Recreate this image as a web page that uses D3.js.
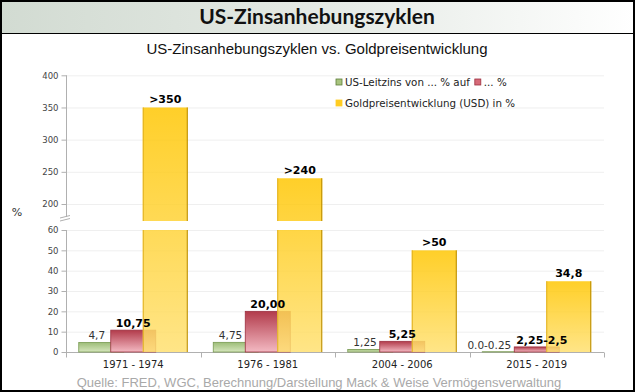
<!DOCTYPE html>
<html><head><meta charset="utf-8">
<script src="https://cdn.jsdelivr.net/npm/d3@7"></script>
<style>html,body{margin:0;padding:0;background:#fff;}svg{display:block;}</style>
</head><body>
<svg id="chart" width="635" height="392"></svg>
<script>
// ---- data ----
const categories = ["1971 - 1974", "1976 - 1981", "2004 - 2006", "2015 - 2019"];
const leitzinsVon = [4.7, 4.75, 1.25, 0.125];
const leitzinsVonLabels = ["4,7", "4,75", "1,25", "0.0-0.25"];
const leitzinsAuf = [10.75, 20.0, 5.25, 2.5];
const leitzinsAufLabels = ["10,75", "20,00", "5,25", "2,25-2,5"];
const gold = [350, 240, 50, 34.8];
const goldLabels = [">350", ">240", ">50", "34,8"];
const lowerTicks = [0, 10, 20, 30, 40, 50, 60];
const upperTicks = [200, 250, 300, 350, 400];
const title = "US-Zinsanhebungszyklen";
const subtitle = "US-Zinsanhebungszyklen vs. Goldpreisentwicklung";
const legendItems = ["US-Leitzins von ... % auf", "... %", "Goldpreisentwicklung (USD) in %"];
const source = "Quelle: FRED, WGC, Berechnung/Darstellung Mack & Weise Vermögensverwaltung";

const svg = d3.select("#chart");
const W = 635, H = 392;
const defs = svg.append("defs");

// title band gradient
const tg = defs.append("linearGradient").attr("id", "titleGrad").attr("x1", 0).attr("x2", 1).attr("y1", 0).attr("y2", 0);
tg.append("stop").attr("offset", "0%").attr("stop-color", "#d2dbd2");
tg.append("stop").attr("offset", "55%").attr("stop-color", "#e6ebe6");
tg.append("stop").attr("offset", "100%").attr("stop-color", "#ffffff");
svg.append("rect").attr("x", 1).attr("y", 1).attr("width", W - 2).attr("height", 32).attr("fill", "url(#titleGrad)");
svg.append("line").attr("x1", 0).attr("x2", W).attr("y1", 33.5).attr("y2", 33.5).attr("stroke", "#000").attr("stroke-width", 1);
svg.append("rect").attr("x", 1).attr("y", 1).attr("width", W - 2).attr("height", H - 2)
  .attr("fill", "none").attr("stroke", "#000").attr("stroke-width", 2);

svg.append("text").attr("x", 317).attr("y", 24).attr("text-anchor", "middle")
  .attr("font-family", "Lato, 'Open Sans', sans-serif").attr("font-weight", "bold").attr("font-size", 21)
  .attr("fill", "#111").text(title);
svg.append("text").attr("x", 317).attr("y", 54).attr("text-anchor", "middle")
  .attr("font-family", "'Liberation Sans Narrow', 'Liberation Sans', Arial, sans-serif").attr("font-size", 15)
  .attr("fill", "#111").text(subtitle);

// ---- scales ----
const left = 66, right = 604;
const x0 = d3.scaleBand().domain(categories).range([left, right]).padding(0);
const barW = 45, barStep = 32;
const groupW = barStep * 2 + barW;
const x1 = d3.scaleLinear().domain([0, 1]).range([0, barStep]);
const gx = (i) => x0(categories[i]) + (x0.bandwidth() - groupW) / 2;

const yBot = d3.scaleLinear().domain([0, 60]).range([352, 230]);
const yTop = d3.scaleLinear().domain([200, 400]).range([204, 75.3]);
const topPanelBottom = 221;

// gridlines
const grid = svg.append("g");
grid.selectAll("line.gl").data(lowerTicks.slice(1)).join("line")
  .attr("x1", left).attr("x2", right).attr("y1", d => yBot(d) + 0.5).attr("y2", d => yBot(d) + 0.5)
  .attr("stroke", "#efefef");
grid.selectAll("line.gu").data(upperTicks).join("line")
  .attr("x1", left).attr("x2", right).attr("y1", d => yTop(d) + 0.5).attr("y2", d => yTop(d) + 0.5)
  .attr("stroke", "#efefef");

// axes
const axisStyle = g => {
  g.select(".domain").attr("stroke", "#b0b0b0");
  g.selectAll(".tick line").attr("stroke", "#b0b0b0");
  g.selectAll(".tick text").attr("fill", "#444").attr("font-family", "'DejaVu Sans', Verdana, sans-serif").attr("font-size", 8.5);
};
svg.append("g").attr("transform", `translate(${left + 0.5},0)`)
  .call(d3.axisLeft(yBot).tickValues(lowerTicks).tickSize(5).tickSizeOuter(0).tickPadding(3))
  .call(axisStyle).call(g => g.select(".domain").attr("d", `M0,${yBot(0)}V${yBot(60)}`));
svg.append("g").attr("transform", `translate(${left + 0.5},0)`)
  .call(d3.axisLeft(yTop).tickValues(upperTicks).tickSize(5).tickSizeOuter(0).tickPadding(3))
  .call(axisStyle).call(g => g.select(".domain").attr("d", `M0,${yTop(400)}V${topPanelBottom - 4}`));

// break marks
const brk = svg.append("g").attr("stroke", "#b0b0b0").attr("stroke-width", 1);
brk.append("line").attr("x1", 60).attr("y1", 218).attr("x2", 70).attr("y2", 215.5);
brk.append("line").attr("x1", 60).attr("y1", 221).attr("x2", 70).attr("y2", 218.5);

// x axis
const xAxisG = svg.append("g").attr("transform", `translate(0,${yBot(0) + 0.5})`);
xAxisG.append("line").attr("x1", left).attr("x2", right).attr("stroke", "#b0b0b0");
const bounds = categories.map(c => x0(c)).concat([right]);
xAxisG.selectAll("line.t").data(bounds).join("line").attr("class", "t")
  .attr("x1", d => Math.round(d) + 0.5).attr("x2", d => Math.round(d) + 0.5).attr("y1", 0).attr("y2", 5).attr("stroke", "#b0b0b0");
xAxisG.selectAll("text").data(categories).join("text")
  .attr("x", d => x0(d) + x0.bandwidth() / 2).attr("y", 15)
  .attr("text-anchor", "middle").attr("font-family", "'DejaVu Sans', Verdana, sans-serif").attr("font-size", 10)
  .attr("fill", "#222").text(d => d);

// y label
svg.append("text").attr("x", 17).attr("y", 216).attr("text-anchor", "middle")
  .attr("font-family", "'DejaVu Sans', Verdana, sans-serif").attr("font-size", 11).attr("fill", "#333").text("%");

// gradients
function vgrad(id, c1, c2) {
  const g = defs.append("linearGradient").attr("id", id).attr("x1", 0).attr("x2", 0).attr("y1", 0).attr("y2", 1);
  g.append("stop").attr("offset", "0%").attr("stop-color", c1);
  g.append("stop").attr("offset", "100%").attr("stop-color", c2);
}
vgrad("greenGrad", "#9dbd78", "#d6e6bd");
vgrad("redGrad", "#b23b4b", "#f3b9c2");

const bars = svg.append("g");
// green bars
bars.selectAll("rect.green").data(leitzinsVon).join("rect").attr("class", "green")
  .attr("x", (d, i) => gx(i) + x1(0)).attr("width", barW)
  .attr("y", d => yBot(d)).attr("height", d => yBot(0) - yBot(d))
  .attr("fill", "url(#greenGrad)").attr("stroke", "#789a52").attr("stroke-width", 0.8);
// red bars
bars.selectAll("rect.red").data(leitzinsAuf).join("rect").attr("class", "red")
  .attr("x", (d, i) => gx(i) + x1(1)).attr("width", barW)
  .attr("y", d => yBot(d)).attr("height", d => yBot(0) - yBot(d))
  .attr("fill", "url(#redGrad)").attr("stroke", "#9c3040").attr("stroke-width", 0.8);

// gold bars (gradient per bar across full height)
gold.forEach((v, i) => {
  const topY = v > 60 ? yTop(v) : yBot(v);
  const g = defs.append("linearGradient").attr("id", "goldGrad" + i).attr("gradientUnits", "userSpaceOnUse")
    .attr("x1", 0).attr("x2", 0).attr("y1", topY).attr("y2", yBot(0));
  g.append("stop").attr("offset", "0%").attr("stop-color", "#ffc600");
  g.append("stop").attr("offset", "100%").attr("stop-color", "#ffe070");
  const bx = gx(i) + x1(2);
  const segs = v > 60
    ? [[yTop(v), topPanelBottom], [yBot(60), yBot(0)]]
    : [[yBot(v), yBot(0)]];
  segs.forEach(([y1, y2]) => {
    bars.append("rect").attr("x", bx).attr("y", y1).attr("width", barW).attr("height", y2 - y1)
      .attr("fill", `url(#goldGrad${i})`).attr("fill-opacity", 0.84);
    bars.append("line").attr("x1", bx + barW - 0.5).attr("x2", bx + barW - 0.5).attr("y1", y1).attr("y2", y2)
      .attr("stroke", "#b88a00").attr("stroke-width", 1);
    bars.append("line").attr("x1", bx + 0.5).attr("x2", bx + 0.5).attr("y1", y1).attr("y2", y2)
      .attr("stroke", "#e0b020").attr("stroke-width", 1);
  });
});

// labels
const lab = svg.append("g").attr("font-family", "'DejaVu Sans', Verdana, sans-serif");
leitzinsVon.forEach((v, i) => {
  const t = lab.append("text").attr("font-size", 10.5).attr("fill", "#333").attr("text-anchor", "middle")
    .attr("y", yBot(v) - 3).text(leitzinsVonLabels[i]);
  const w = t.node().getComputedTextLength();
  const redStart = gx(i) + x1(1);
  const cx = Math.min(gx(i) + barStep / 2 + 2, redStart - 3 - w / 2);
  t.attr("x", cx);
});
leitzinsAuf.forEach((v, i) => {
  lab.append("text").attr("font-size", 11).attr("font-weight", "bold").attr("fill", "#000").attr("text-anchor", "middle")
    .attr("x", gx(i) + x1(1) + barW / 2 + (i === 3 ? 5 : 0)).attr("y", yBot(v) - 3).text(leitzinsAufLabels[i]);
});
gold.forEach((v, i) => {
  const topY = v > 60 ? yTop(v) : yBot(v);
  lab.append("text").attr("font-size", 11).attr("font-weight", "bold").attr("fill", "#000").attr("text-anchor", "middle")
    .attr("x", gx(i) + x1(2) + barW / 2).attr("y", topY - 4).text(goldLabels[i]);
});

// legend
const lg = svg.append("g").attr("font-family", "'DejaVu Sans', Verdana, sans-serif").attr("font-size", 10.3).attr("fill", "#222");
const sq = (x, y, fill, stroke) => lg.append("rect").attr("x", x).attr("y", y).attr("width", 6).attr("height", 6).attr("fill", fill).attr("stroke", stroke).attr("stroke-width", 0.8);
sq(336, 79, "#a8c47e", "#5d7d3a");
const t1 = lg.append("text").attr("x", 345).attr("y", 86).text(legendItems[0]);
const t1w = t1.node().getComputedTextLength();
sq(345 + t1w + 5, 79, "#d66a78", "#9c3040");
lg.append("text").attr("x", 345 + t1w + 14).attr("y", 86).text(legendItems[1]);
sq(336, 100, "#ffcc22", "#ffcc22");
lg.append("text").attr("x", 345).attr("y", 107).text(legendItems[2]);

// source
svg.append("text").attr("x", 319).attr("y", 387).attr("text-anchor", "middle")
  .attr("font-family", "'Liberation Sans', Arial, sans-serif").attr("font-size", 13).attr("fill", "#a9a9a9").text(source);
</script>
</body></html>
